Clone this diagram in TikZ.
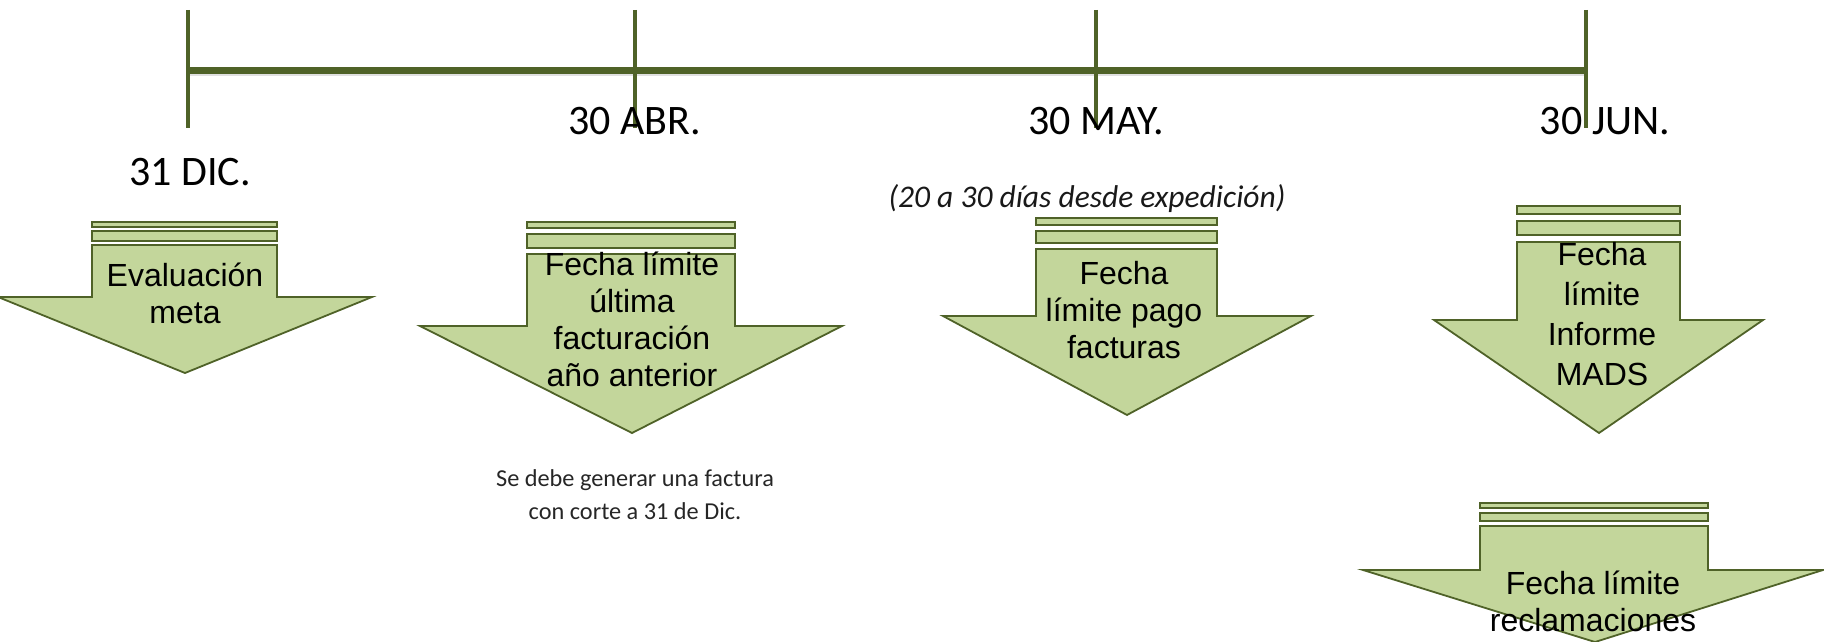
\documentclass[tikz,border=0pt]{standalone}
\usepackage{fontspec}
\setmainfont{Carlito}
\newfontfamily\arialf{Liberation Sans}
\definecolor{olive}{HTML}{4F6228}
\definecolor{lightolive}{HTML}{C3D69B}
\begin{document}
\begin{tikzpicture}[x=1pt,y=-1pt,
  tl/.style={draw=olive,line width=7pt},
  tick/.style={draw=olive,line width=4.5pt},
  shade/.style={draw=black!12,line width=4pt},
  ashape/.style={draw=olive,fill=lightolive,line width=1.8pt,line join=miter},
  date/.style={font=\fontsize{42}{50}\selectfont,text=black,inner sep=0pt},
  note/.style={font=\fontsize{31.5}{38}\selectfont\itshape,text=black!90,inner sep=0pt},
  sub/.style={font=\fontsize{24.3}{33}\selectfont,text=black!85,align=center,inner sep=0pt},
  atext/.style={font=\arialf\fontsize{32}{37}\selectfont,text=black,align=center,inner sep=0pt}]
\useasboundingbox (0,0) rectangle (1824,642);
\clip (0,0) rectangle (1824,642);
% timeline
\coordinate (t1a) at (188,10); \coordinate (t1b) at (188,128);
\coordinate (t2a) at (635,10); \coordinate (t2b) at (635,128);
\coordinate (t3a) at (1096,10); \coordinate (t3b) at (1096,128);
\coordinate (t4a) at (1586,10); \coordinate (t4b) at (1586,128);
\coordinate (l1) at (188,71); \coordinate (l2) at (1586,71);
\draw[shade] ([yshift=-3]l1) -- ([yshift=-3]l2);
\draw[tl] (l1) -- (l2);
\draw[tick] (t1a) -- (t1b);
\draw[tick] (t2a) -- (t2b);
\draw[tick] (t3a) -- (t3b);
\draw[tick] (t4a) -- (t4b);
% dates
\node[date] (d1) at (190,172) {31 DIC.};
\node[date] (d2) at (635,121) {30 ABR.};
\node[date] (d3) at (1096,121) {30 MAY.};
\node[date] (d4) at (1605,121) {30 JUN.};
\node[note] (n3) at (1087,199) {(20 a 30 días desde expedición)};
% arrow 1
\path[ashape] (92,222) rectangle (277,227);
\path[ashape] (92,231) rectangle (277,241);
\path[ashape] (92,245) -- (277,245) -- (277,297) -- (372,297) -- (185,373) -- (-2,297) -- (92,297) -- cycle;
% arrow 2
\path[ashape] (527,222) rectangle (735,228);
\path[ashape] (527,234) rectangle (735,248);
\path[ashape] (527,254) -- (735,254) -- (735,326) -- (842,326) -- (632,433) -- (420,326) -- (527,326) -- cycle;
% arrow 3
\path[ashape] (1036,218) rectangle (1217,225);
\path[ashape] (1036,231) rectangle (1217,243);
\path[ashape] (1036,249) -- (1217,249) -- (1217,316) -- (1311,316) -- (1127,415) -- (943,316) -- (1036,316) -- cycle;
% arrow 4
\path[ashape] (1517,206) rectangle (1680,214);
\path[ashape] (1517,221) rectangle (1680,235);
\path[ashape] (1517,242) -- (1680,242) -- (1680,320) -- (1763,320) -- (1599,433) -- (1434,320) -- (1517,320) -- cycle;
% arrow 5
\path[ashape] (1480,503) rectangle (1708,508);
\path[ashape] (1480,513) rectangle (1708,521);
\path[ashape] (1480,526) -- (1708,526) -- (1708,570) -- (1823,570) -- (1595,642) -- (1363,570) -- (1480,570) -- cycle;
% arrow texts
\node[atext] (a1) at (185,293) {Evaluación\\meta};
\node[atext] (a2) at (632,319) {Fecha límite\\última\\facturación\\año anterior};
\node[atext] (a3) at (1124,310) {Fecha\\límite pago\\facturas};
\node[atext,font=\arialf\fontsize{32}{40}\selectfont] (a4) at (1602,314) {Fecha\\límite\\Informe\\MADS};
\node[atext] (a5) at (1593,601) {Fecha límite\\reclamaciones};
% note under arrow 2
\node[sub] (s2) at (635,495) {Se debe generar una factura\\con corte a 31 de Dic.};
\end{tikzpicture}
\end{document}
